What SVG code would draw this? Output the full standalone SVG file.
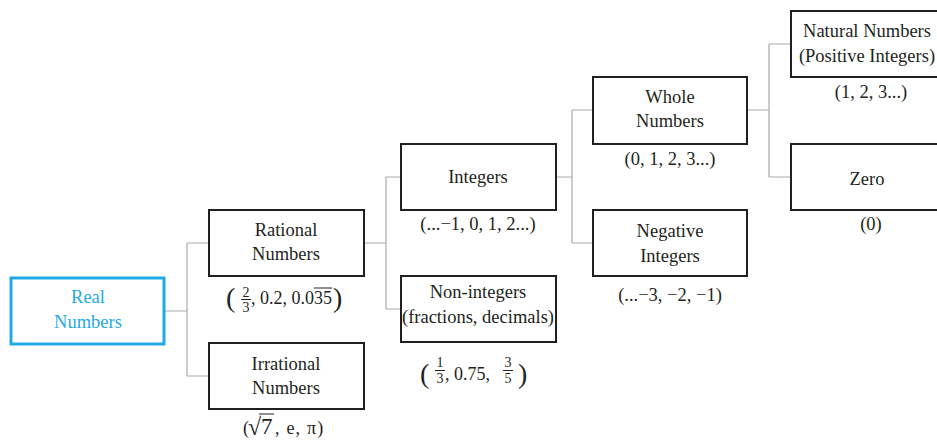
<svg xmlns="http://www.w3.org/2000/svg" width="937" height="440" viewBox="0 0 937 440">
<style>
text{fill:#231f20;text-anchor:middle;font-size:18.5px;font-family:'Liberation Serif',serif}
.box{fill:#fff;stroke:#231f20;stroke-width:2}
.blue{fill:#fff;stroke:#1eaae7;stroke-width:3}
text.bt{fill:#1eaae7}
.con{fill:none;stroke:#a7a9ac;stroke-width:1.2}
text.st{text-anchor:start;font-size:18px}
text.sm{font-size:14px}
text.par{font-size:28px;text-anchor:start}
.fl{stroke:#231f20;stroke-width:1}
</style>
<rect width="937" height="440" fill="#fff"/>
<g id="connectors">
<path class="con" d="M165,311H187M187,243V376M187,243H209M187,376H209"/>
<path class="con" d="M364,243H386M386,177V309M386,177H401M386,309H401"/>
<path class="con" d="M556,177H572M572,110V243M572,110H593M572,243H593"/>
<path class="con" d="M747,110H769M769,44V177M769,44H791M769,177H791"/>
</g>
<g id="real">
<rect class="blue" x="11" y="278" width="153" height="66"/>
<text style="font-family:'Liberation Serif',serif" class="bt" x="88" y="303">Real</text>
<text style="font-family:'Liberation Serif',serif" class="bt" x="88" y="328">Numbers</text>
</g>
<g id="rational">
<rect class="box" x="209" y="210" width="155" height="66"/>
<text style="font-family:'Liberation Serif',serif" x="286" y="236">Rational</text>
<text style="font-family:'Liberation Serif',serif" x="286" y="260">Numbers</text>
<text style="font-family:'Liberation Serif',serif" class="par" x="226" y="307">(</text>
<text style="font-family:'Liberation Serif',serif" class="sm" x="246" y="297">2</text>
<line class="fl" x1="241" y1="299.5" x2="251" y2="299.5"/>
<text style="font-family:'Liberation Serif',serif" class="sm" x="246" y="312">3</text>
<text style="font-family:'Liberation Serif',serif" class="st" x="251" y="304">, 0.2, 0.0<tspan>35</tspan></text>
<line class="fl" x1="314" y1="288" x2="332" y2="288"/>
<text style="font-family:'Liberation Serif',serif" class="par" x="333" y="307">)</text>
</g>
<g id="irrational">
<rect class="box" x="209" y="343" width="155" height="66"/>
<text style="font-family:'Liberation Serif',serif" x="286" y="370">Irrational</text>
<text style="font-family:'Liberation Serif',serif" x="286" y="394">Numbers</text>
<text style="font-family:'Liberation Serif',serif" class="st" x="243" y="434">(</text>
<text style="font-family:'Liberation Serif',serif;font-size:24px" class="st" x="248" y="435">√</text>
<line class="fl" x1="259" y1="414" x2="274" y2="414"/>
<text style="font-family:'Liberation Serif',serif;font-size:23px" class="st" x="261" y="434">7</text>
<text style="font-family:'Liberation Serif',serif;letter-spacing:1.2px" class="st" x="275" y="434">, e, π)</text>
</g>
<g id="integers">
<rect class="box" x="401" y="144" width="155" height="66"/>
<text style="font-family:'Liberation Serif',serif" x="478" y="183">Integers</text>
<text style="font-family:'Liberation Serif',serif" x="478" y="230">(...−1, 0, 1, 2...)</text>
</g>
<g id="noninteger">
<rect class="box" x="401" y="276" width="155" height="66"/>
<text style="font-family:'Liberation Serif',serif" x="478" y="298">Non-integers</text>
<text style="font-family:'Liberation Serif',serif" x="478" y="323">(fractions, decimals)</text>
<text style="font-family:'Liberation Serif',serif" class="par" x="420" y="383">(</text>
<text style="font-family:'Liberation Serif',serif" class="sm" x="440" y="367">1</text>
<line class="fl" x1="435" y1="370.5" x2="445" y2="370.5"/>
<text style="font-family:'Liberation Serif',serif" class="sm" x="440" y="383">3</text>
<text style="font-family:'Liberation Serif',serif" class="st" x="445" y="380">, 0.75,</text>
<text style="font-family:'Liberation Serif',serif" class="sm" x="508" y="367">3</text>
<line class="fl" x1="503" y1="370.5" x2="513" y2="370.5"/>
<text style="font-family:'Liberation Serif',serif" class="sm" x="508" y="383">5</text>
<text style="font-family:'Liberation Serif',serif" class="par" x="518" y="383">)</text>
</g>
<g id="whole">
<rect class="box" x="593" y="77" width="154" height="67"/>
<text style="font-family:'Liberation Serif',serif" x="670" y="103">Whole</text>
<text style="font-family:'Liberation Serif',serif" x="670" y="127">Numbers</text>
<text style="font-family:'Liberation Serif',serif" x="670" y="165">(0, 1, 2, 3...)</text>
</g>
<g id="negative">
<rect class="box" x="593" y="210" width="154" height="66"/>
<text style="font-family:'Liberation Serif',serif" x="670" y="237">Negative</text>
<text style="font-family:'Liberation Serif',serif" x="670" y="262">Integers</text>
<text style="font-family:'Liberation Serif',serif" x="670" y="301">(...−3, −2, −1)</text>
</g>
<g id="natural">
<rect class="box" x="791" y="11" width="155" height="66"/>
<text style="font-family:'Liberation Serif',serif" x="867" y="37">Natural Numbers</text>
<text style="font-family:'Liberation Serif',serif" x="867" y="62">(Positive Integers)</text>
<text style="font-family:'Liberation Serif',serif" x="871" y="98">(1, 2, 3...)</text>
</g>
<g id="zero">
<rect class="box" x="791" y="144" width="155" height="66"/>
<text style="font-family:'Liberation Serif',serif" x="867" y="185">Zero</text>
<text style="font-family:'Liberation Serif',serif" x="871" y="230">(0)</text>
</g>
</svg>
